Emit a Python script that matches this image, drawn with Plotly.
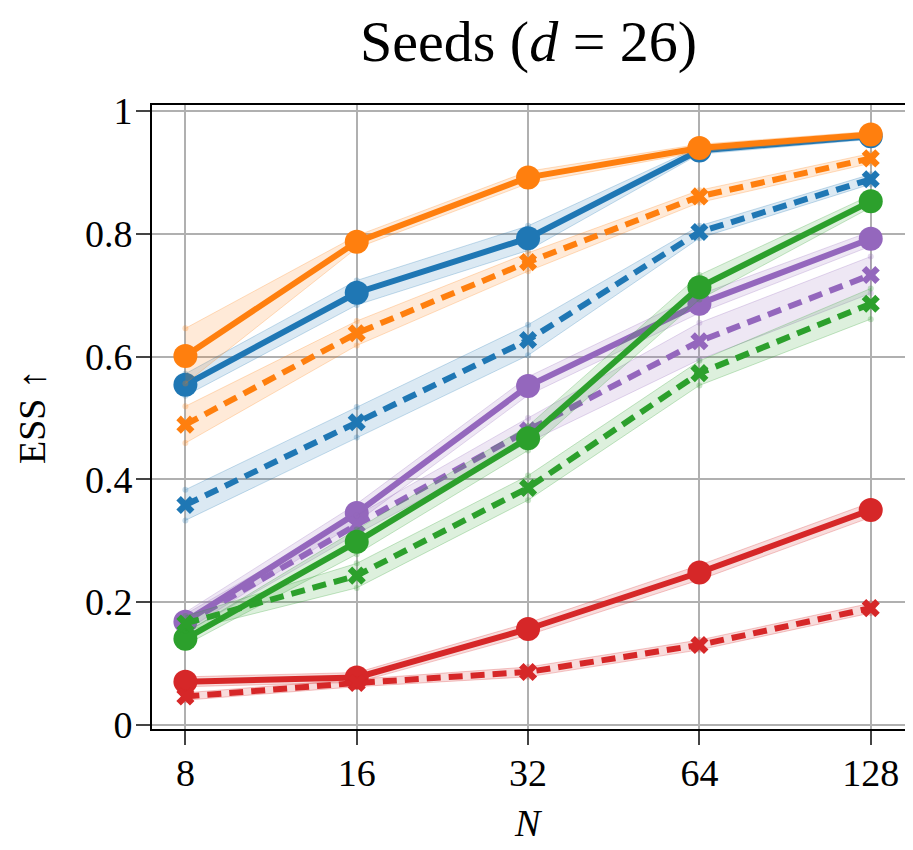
import plotly.graph_objects as go

N = [8, 16, 32, 64, 128]

# solid = method A (circles), dashed = method B (crosses)
blue_solid = [0.554, 0.704, 0.793, 0.936, 0.959]
blue_solid_err = [0.018, 0.020, 0.020, 0.006, 0.005]
orange_solid = [0.601, 0.787, 0.892, 0.940, 0.962]
orange_solid_err = [0.045, 0.010, 0.010, 0.006, 0.005]
purple_solid = [0.168, 0.345, 0.552, 0.686, 0.792]
purple_solid_err = [0.015, 0.015, 0.015, 0.015, 0.012]
green_solid = [0.140, 0.298, 0.467, 0.713, 0.853]
green_solid_err = [0.010, 0.020, 0.020, 0.020, 0.010]
red_solid = [0.070, 0.077, 0.156, 0.248, 0.350]
red_solid_err = [0.008, 0.008, 0.010, 0.012, 0.012]

blue_dash = [0.358, 0.493, 0.627, 0.803, 0.889]
blue_dash_err = [0.025, 0.025, 0.025, 0.010, 0.008]
orange_dash = [0.489, 0.638, 0.754, 0.861, 0.923]
orange_dash_err = [0.030, 0.020, 0.015, 0.010, 0.008]
purple_dash = [0.165, 0.326, 0.480, 0.625, 0.733]
purple_dash_err = [0.015, 0.015, 0.020, 0.030, 0.030]
green_dash = [0.165, 0.243, 0.386, 0.573, 0.686]
green_dash_err = [0.012, 0.020, 0.020, 0.020, 0.025]
red_dash = [0.046, 0.068, 0.086, 0.130, 0.190]
red_dash_err = [0.006, 0.006, 0.008, 0.008, 0.008]

y_ticks = [0, 0.2, 0.4, 0.6, 0.8, 1.0]
y_ticktext = ["0", "0.2", "0.4", "0.6", "0.8", "1"]

_BLUE = "#1f77b4"
_ORANGE = "#ff7f0e"
_GREEN = "#2ca02c"
_RED = "#d62728"
_PURPLE = "#9467bd"
_FONT = "Liberation Serif, DejaVu Serif, serif"

# the page body adds an 8px margin, so the figure is 8px smaller each way
W, H = 905, 842
L, R, T, B = 144, 8, 97, 121


def _rgba(hexc, a):
    h = hexc.lstrip("#")
    r, g, b = int(h[0:2], 16), int(h[2:4], 16), int(h[4:6], 16)
    return f"rgba({r},{g},{b},{a})"


def add_series(fig, y, err, color, dashed):
    lo = [v - e for v, e in zip(y, err)]
    hi = [v + e for v, e in zip(y, err)]
    fig.add_trace(go.Scatter(
        x=N + N[::-1], y=hi + lo[::-1], fill="toself",
        fillcolor=_rgba(color, 0.16),
        line=dict(color=_rgba(color, 0.25), width=1),
        hoverinfo="skip", showlegend=False,
    ))
    fig.add_trace(go.Scatter(
        x=N, y=y, mode="lines+markers", showlegend=False,
        line=dict(color=color, width=6, dash="14px,8px" if dashed else "solid"),
        marker=dict(symbol="x" if dashed else "circle",
                    size=16 if dashed else 24, color=color,
                    line=dict(width=0)),
    ))


fig = go.Figure()
series = [
    (blue_solid, blue_solid_err, _BLUE, False),
    (blue_dash, blue_dash_err, _BLUE, True),
    (orange_solid, orange_solid_err, _ORANGE, False),
    (orange_dash, orange_dash_err, _ORANGE, True),
    (red_solid, red_solid_err, _RED, False),
    (red_dash, red_dash_err, _RED, True),
    (purple_solid, purple_solid_err, _PURPLE, False),
    (purple_dash, purple_dash_err, _PURPLE, True),
    (green_solid, green_solid_err, _GREEN, False),
    (green_dash, green_dash_err, _GREEN, True),
]
for y, err, color, dashed in series:
    add_series(fig, y, err, color, dashed)

fig.update_layout(
    width=W, height=H,
    margin=dict(l=L, r=R, t=T, b=B, autoexpand=False),
    paper_bgcolor="white", plot_bgcolor="white",
    font=dict(family=_FONT, color="black", size=38),
    annotations=[
        dict(text="Seeds (<i>d</i> = 26)", xref="paper", yref="paper",
             x=0.5, y=(H - 34 - B) / (H - T - B), xanchor="center",
             yanchor="middle", showarrow=False, font=dict(size=58)),
        dict(text="<i>N</i>", xref="paper", yref="paper",
             x=0.5, y=-(815 - (H - B)) / (H - T - B), xanchor="center",
             yanchor="middle", showarrow=False, font=dict(size=38)),
        dict(text="ESS ↑", xref="paper", yref="paper", textangle=-90,
             x=-(L - 24) / (W - L - R), y=0.5, xanchor="center",
             yanchor="middle", showarrow=False, font=dict(size=38)),
    ],
)
fig.update_xaxes(
    type="log", range=[0.8444, 2.1674], automargin=False,
    tickvals=N, ticktext=[str(n) for n in N], ticklabelstandoff=-5,
    showgrid=True, gridcolor="#b0b0b0", gridwidth=2,
    ticks="outside", ticklen=14, tickwidth=1.5, tickcolor="#444",
    showline=True, linecolor="black", linewidth=2, mirror=True,
    zeroline=False,
)
fig.update_yaxes(
    range=[-0.007, 1.01], automargin=False,
    tickvals=y_ticks, ticktext=y_ticktext, ticklabelstandoff=-4,
    showgrid=True, gridcolor="#b0b0b0", gridwidth=2,
    ticks="outside", ticklen=14, tickwidth=1.5, tickcolor="#444",
    showline=True, linecolor="black", linewidth=2, mirror=True,
    zeroline=False,
)

fig.write_html("out.html")
